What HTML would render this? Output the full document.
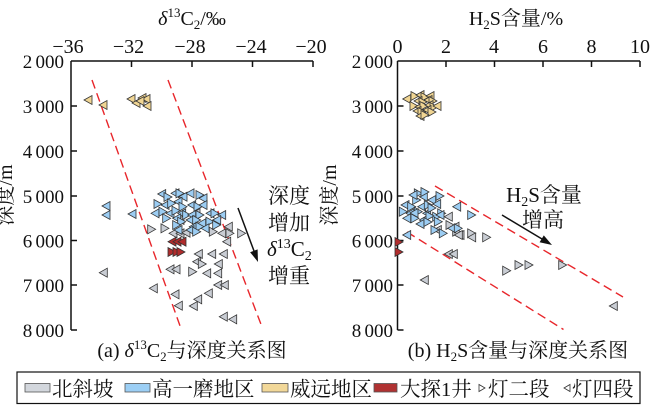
<!DOCTYPE html>
<html><head><meta charset="utf-8"><style>
html,body{margin:0;padding:0;background:#fff;}
svg{display:block;}
text{font-family:"Liberation Serif","Noto Serif CJK SC",serif;fill:#111;}
</style></head><body>
<svg width="650" height="405" viewBox="0 0 650 405" xmlns="http://www.w3.org/2000/svg">
<defs>
<polygon id="gl" points="-4,0 4,-4.5 4,4.5" fill="#c9cdd4" stroke="#333" stroke-width="0.8"/>
<polygon id="gr" points="4,0 -4,-4.5 -4,4.5" fill="#c9cdd4" stroke="#333" stroke-width="0.8"/>
<polygon id="bl" points="-4,0 4,-4.5 4,4.5" fill="#9ccdf3" stroke="#333" stroke-width="0.8"/>
<polygon id="br" points="4,0 -4,-4.5 -4,4.5" fill="#9ccdf3" stroke="#333" stroke-width="0.8"/>
<polygon id="yl" points="-4,0 4,-4.5 4,4.5" fill="#f0d593" stroke="#333" stroke-width="0.8"/>
<polygon id="yr" points="4,0 -4,-4.5 -4,4.5" fill="#f0d593" stroke="#333" stroke-width="0.8"/>
<polygon id="rl" points="-4,0 4,-4.5 4,4.5" fill="#b02c2c" stroke="#333" stroke-width="0.8"/>
<polygon id="rr" points="4,0 -4,-4.5 -4,4.5" fill="#b02c2c" stroke="#333" stroke-width="0.8"/>
</defs>

<!-- ===== LEFT CHART ===== -->
<text x="192" y="25" font-size="20" text-anchor="middle"><tspan font-style="italic">δ</tspan><tspan font-size="13" dy="-8">13</tspan><tspan dy="8">C</tspan><tspan font-size="13" dy="4">2</tspan><tspan dy="-4">/‰</tspan></text>
<g font-size="20" text-anchor="middle">
<text x="68" y="53">−36</text>
<text x="128.5" y="53">−32</text>
<text x="190" y="53">−28</text>
<text x="251" y="53">−24</text>
<text x="311" y="53">−20</text>
</g>
<g font-size="19" text-anchor="end" style="word-spacing:-1.5px">
<text x="64" y="68">2 000</text>
<text x="64" y="113">3 000</text>
<text x="64" y="158">4 000</text>
<text x="64" y="203">5 000</text>
<text x="64" y="247.5">6 000</text>
<text x="64" y="292">7 000</text>
<text x="64" y="337">8 000</text>
</g>
<text transform="translate(12,195) rotate(-90)" font-size="20" text-anchor="middle">深度/m</text>
<g stroke="#111" stroke-width="1.5" fill="none">
<path d="M71,61 H313 M71,61 V330"/>
<path d="M131.5,61 V67 M192,61 V67 M252.5,61 V67 M313,61 V67"/>
<path d="M71,106 H77 M71,151 H77 M71,196 H77 M71,240.5 H77 M71,285 H77 M71,330 H77"/>
</g>
<g stroke="#e8262b" stroke-width="1.4" stroke-dasharray="9,5" fill="none">
<line x1="92" y1="80" x2="181.5" y2="330"/>
<line x1="168" y1="80" x2="262" y2="327"/>
</g>
<!-- yellow -->
<use href="#yl" x="88" y="100"/><use href="#yl" x="103" y="105"/><use href="#yl" x="131" y="99"/><use href="#yl" x="136" y="103"/><use href="#yl" x="142" y="98"/><use href="#yl" x="146" y="99"/><use href="#yl" x="147" y="106"/><use href="#yl" x="140" y="101"/>
<!-- gray -->
<use href="#gr" x="151.7" y="229.3"/><use href="#gr" x="165" y="228.3"/><use href="#gl" x="173" y="233.3"/><use href="#gl" x="180" y="233.3"/><use href="#gl" x="186" y="232.7"/><use href="#gr" x="213.3" y="231.7"/><use href="#gl" x="221.7" y="233.3"/><use href="#gr" x="230" y="233.3"/><use href="#gr" x="241.7" y="233.3"/><use href="#gl" x="226.7" y="241.7"/><use href="#gl" x="228.3" y="226.7"/>
<use href="#gl" x="198.3" y="254"/><use href="#gl" x="211.7" y="254"/><use href="#gl" x="223.3" y="254"/><use href="#gl" x="196.7" y="261.7"/><use href="#gr" x="202.3" y="264"/><use href="#gl" x="218.3" y="264"/><use href="#gl" x="170" y="269.3"/><use href="#gl" x="176" y="269.3"/><use href="#gr" x="192.7" y="271.7"/><use href="#gl" x="206.7" y="273.3"/><use href="#gl" x="217.7" y="273.3"/><use href="#gl" x="103.3" y="272.7"/><use href="#gl" x="153.3" y="288.3"/><use href="#gl" x="175" y="294.3"/><use href="#gl" x="178.3" y="305.7"/><use href="#gl" x="193.3" y="306"/><use href="#gl" x="197.7" y="299.3"/><use href="#gl" x="208.3" y="293.3"/><use href="#gl" x="217.7" y="285"/><use href="#gl" x="224.3" y="285"/><use href="#gl" x="223.3" y="316.7"/><use href="#gl" x="232.7" y="319.3"/>
<use href="#gl" x="180" y="220"/><use href="#gl" x="196" y="213"/>
<!-- blue -->
<use href="#bl" x="106" y="206"/><use href="#bl" x="106" y="215"/><use href="#bl" x="132" y="214"/>
<use href="#bl" x="161.7" y="194"/><use href="#br" x="168" y="197"/><use href="#bl" x="175" y="193.3"/><use href="#br" x="180" y="193.3"/><use href="#bl" x="183" y="196.7"/><use href="#bl" x="190" y="193.3"/><use href="#br" x="200" y="195"/><use href="#bl" x="203" y="198.3"/>
<use href="#br" x="158" y="204"/><use href="#bl" x="165" y="205"/><use href="#br" x="171.7" y="203.3"/><use href="#bl" x="178" y="201.7"/><use href="#br" x="183" y="206.7"/><use href="#bl" x="191.7" y="205"/><use href="#br" x="198" y="206.7"/><use href="#bl" x="203" y="205"/>
<use href="#bl" x="155" y="213.3"/><use href="#br" x="163" y="211.7"/><use href="#bl" x="170" y="213.3"/><use href="#br" x="176" y="210.7"/><use href="#bl" x="181.7" y="213.3"/><use href="#br" x="186.7" y="215"/><use href="#bl" x="191.7" y="215"/><use href="#br" x="200" y="215"/><use href="#bl" x="210" y="213.3"/><use href="#br" x="215" y="213.3"/><use href="#bl" x="221.7" y="215"/>
<use href="#br" x="166.7" y="218.3"/><use href="#bl" x="176.7" y="218.3"/><use href="#br" x="181.7" y="221.7"/><use href="#bl" x="190" y="220"/><use href="#br" x="196.7" y="220"/><use href="#bl" x="201.7" y="223.3"/><use href="#br" x="210" y="221.7"/><use href="#bl" x="216.7" y="220"/>
<use href="#br" x="176.7" y="225"/><use href="#bl" x="193.3" y="226.7"/><use href="#br" x="200" y="226.7"/><use href="#bl" x="190" y="230"/><use href="#br" x="196.7" y="231.7"/><use href="#bl" x="205" y="228.3"/><use href="#br" x="216.7" y="225"/><use href="#bl" x="178" y="230"/>
<!-- red -->
<use href="#rl" x="172" y="241.7"/><use href="#rl" x="177" y="241.7"/><use href="#rl" x="182" y="241.7"/>
<use href="#rr" x="172" y="252"/><use href="#rr" x="177" y="252"/><use href="#rr" x="181" y="252"/>
<!-- annotation left -->
<g font-size="21">
<text x="268" y="203">深度</text>
<text x="268" y="230">增加</text>
<text x="267" y="256"><tspan font-style="italic">δ</tspan><tspan font-size="14" dy="-8">13</tspan><tspan dy="8">C</tspan><tspan font-size="14" dy="4">2</tspan></text>
<text x="268" y="283">增重</text>
</g>
<line x1="238" y1="208" x2="254" y2="251" stroke="#111" stroke-width="1.5"/>
<polygon points="258,262 250.1,252.2 257.6,249.4" fill="#111"/>
<text x="192" y="357" font-size="20" text-anchor="middle">(a) <tspan font-style="italic">δ</tspan><tspan font-size="13" dy="-8">13</tspan><tspan dy="8">C</tspan><tspan font-size="13" dy="4">2</tspan><tspan dy="-4">与深度关系图</tspan></text>

<!-- ===== RIGHT CHART ===== -->
<text x="516" y="25" font-size="20" text-anchor="middle">H<tspan font-size="13" dy="4">2</tspan><tspan dy="-4">S含量/%</tspan></text>
<g font-size="20" text-anchor="middle">
<text x="397.5" y="53">0</text>
<text x="446" y="53">2</text>
<text x="494" y="53">4</text>
<text x="543" y="53">6</text>
<text x="591.5" y="53">8</text>
<text x="640" y="53">10</text>
</g>
<g font-size="19" text-anchor="end" style="word-spacing:-1.5px">
<text x="393" y="68">2 000</text>
<text x="393" y="113">3 000</text>
<text x="393" y="158">4 000</text>
<text x="393" y="203">5 000</text>
<text x="393" y="247.5">6 000</text>
<text x="393" y="292">7 000</text>
<text x="393" y="337">8 000</text>
</g>
<text transform="translate(336,195) rotate(-90)" font-size="20" text-anchor="middle">深度/m</text>
<g stroke="#111" stroke-width="1.5" fill="none">
<path d="M397.5,61 H640 M397.5,61 V330"/>
<path d="M446,61 V67 M494.5,61 V67 M543,61 V67 M591.5,61 V67 M640,61 V67"/>
<path d="M397.5,106 H403.5 M397.5,151 H403.5 M397.5,196 H403.5 M397.5,240.5 H403.5 M397.5,285 H403.5 M397.5,330 H403.5"/>
</g>
<g stroke="#e8262b" stroke-width="1.4" stroke-dasharray="9,5" fill="none">
<line x1="435" y1="186" x2="623" y2="297"/>
<line x1="407" y1="232" x2="563.5" y2="329.5"/>
</g>
<!-- yellow cluster -->
<use href="#yl" x="406.7" y="99"/>
<use href="#yr" x="415" y="96"/><use href="#yl" x="420" y="95"/><use href="#yr" x="425" y="97"/><use href="#yl" x="430" y="96"/><use href="#yl" x="418" y="101"/><use href="#yr" x="423" y="102"/><use href="#yl" x="428" y="100"/><use href="#yr" x="433" y="101"/><use href="#yr" x="414" y="106"/><use href="#yl" x="419" y="107"/><use href="#yr" x="424" y="106"/><use href="#yl" x="429" y="105"/><use href="#yr" x="434" y="107"/><use href="#yl" x="417" y="111"/><use href="#yr" x="422" y="112"/><use href="#yl" x="427" y="110"/><use href="#yr" x="432" y="112"/><use href="#yl" x="420" y="116"/><use href="#yr" x="425" y="115"/><use href="#yl" x="437" y="106"/>
<!-- gray -->
<use href="#gl" x="448.3" y="216.7"/><use href="#gl" x="455" y="226.7"/><use href="#gr" x="450" y="225"/><use href="#gr" x="456.7" y="231.7"/><use href="#gl" x="460" y="235"/><use href="#gr" x="471.7" y="233.3"/><use href="#gl" x="471.7" y="237.3"/><use href="#gr" x="486.7" y="237.3"/><use href="#gl" x="448.3" y="254"/><use href="#gl" x="453.3" y="254"/><use href="#gl" x="424.3" y="280"/><use href="#gr" x="506.7" y="270.7"/><use href="#gr" x="519" y="265"/><use href="#gr" x="529" y="265"/><use href="#gr" x="562.7" y="265"/><use href="#gl" x="613.3" y="306"/><use href="#gl" x="437.3" y="230"/><use href="#gl" x="458.3" y="235"/>
<!-- blue -->
<use href="#br" x="418.3" y="193.3"/><use href="#br" x="440" y="196"/><use href="#bl" x="423.3" y="196.7"/><use href="#br" x="416.7" y="200"/><use href="#bl" x="431.7" y="200"/><use href="#bl" x="405" y="205"/><use href="#br" x="411.7" y="206.7"/><use href="#bl" x="421.7" y="206.7"/><use href="#br" x="428.3" y="205"/><use href="#bl" x="436.7" y="204"/><use href="#br" x="403.3" y="211.7"/><use href="#bl" x="410" y="213.3"/><use href="#br" x="418.3" y="211.7"/><use href="#bl" x="426.7" y="213.3"/><use href="#br" x="441.7" y="213.3"/><use href="#bl" x="406.7" y="218.3"/><use href="#br" x="415" y="218.3"/><use href="#bl" x="423.3" y="220"/><use href="#br" x="436.7" y="216.7"/><use href="#bl" x="440" y="215"/><use href="#br" x="438.3" y="221.7"/><use href="#bl" x="456.7" y="206.7"/><use href="#br" x="471.7" y="215"/><use href="#br" x="435" y="230"/><use href="#br" x="443.3" y="233.3"/><use href="#bl" x="451.7" y="228.3"/><use href="#br" x="458.3" y="228.3"/><use href="#bl" x="406.7" y="235"/>
<use href="#bl" x="413" y="195"/><use href="#br" x="425" y="192"/><use href="#br" x="432" y="208"/><use href="#bl" x="414" y="213"/><use href="#br" x="430" y="216"/><use href="#bl" x="420" y="224"/><use href="#br" x="428" y="222"/>
<!-- red -->
<use href="#rr" x="399" y="242"/><use href="#rr" x="399" y="252"/>
<!-- annotation right -->
<text x="544" y="202" font-size="21" text-anchor="middle">H<tspan font-size="14" dy="4">2</tspan><tspan dy="-4">S含量</tspan></text>
<text x="543" y="227" font-size="21" text-anchor="middle">增高</text>
<line x1="502" y1="215" x2="542" y2="239" stroke="#111" stroke-width="1.5"/>
<polygon points="552,245 539.6,242.2 543.8,235.4" fill="#111"/>
<text x="518" y="357" font-size="20" text-anchor="middle">(b) H<tspan font-size="13" dy="4">2</tspan><tspan dy="-4">S含量与深度关系图</tspan></text>

<!-- ===== LEGEND ===== -->
<rect x="17" y="372" width="623" height="31.5" fill="#fff" stroke="#111" stroke-width="1.2"/>
<g stroke="#555" stroke-width="0.8">
<rect x="25" y="383.5" width="25" height="8.5" fill="#d3d7dd"/>
<rect x="125" y="383.5" width="25" height="8.5" fill="#9ccff5"/>
<rect x="262" y="383.5" width="26" height="8.5" fill="#f2d899"/>
<rect x="374" y="383.5" width="23" height="8.5" fill="#b03232"/>
</g>
<polygon points="485,388 479,384.5 479,391.5" fill="#fff" stroke="#333" stroke-width="0.8"/>
<polygon points="564,388 570,384.5 570,391.5" fill="#fff" stroke="#333" stroke-width="0.8"/>
<g font-size="20.5">
<text x="52" y="396">北斜坡</text>
<text x="152" y="396">高一磨地区</text>
<text x="290" y="396">威远地区</text>
<text x="400" y="396">大探1井</text>
<text x="488" y="396">灯二段</text>
<text x="572" y="396">灯四段</text>
</g>
</svg>
</body></html>
